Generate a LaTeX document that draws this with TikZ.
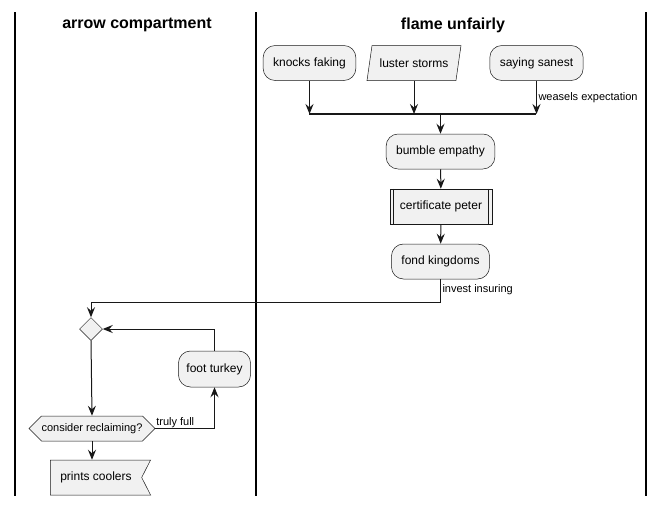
\documentclass[tikz,border=0pt]{standalone}
\usepackage{fontspec}
\setmainfont{Liberation Sans}
\usetikzlibrary{arrows.meta,shapes.geometric,shapes.symbols}
\definecolor{boxc}{HTML}{F1F1F1}
\definecolor{linec}{HTML}{181818}

\begin{document}
\begin{tikzpicture}[x=1pt,y=-1pt,
        act/.style={draw=linec, line width=0.5pt, fill=boxc, rounded corners=12pt,
            minimum height=35pt, inner xsep=10pt, font=\fontsize{12}{14}\selectfont},
        arr/.style={draw=linec, line width=1pt, -{Stealth[length=10pt,width=8pt,inset=3.5pt]}},
        lab/.style={font=\fontsize{11}{13}\selectfont, inner sep=1.5pt},
        lane/.style={line width=1.4pt},
        title/.style={font=\fontsize{16}{18}\selectfont\bfseries}]
        \useasboundingbox (0,0) rectangle (665,506);
        % swimlanes
        \draw[lane](15,12)--(15,496);
        \draw[lane](256,12)--(256,496);
        \draw[lane](646,12)--(646,496);
        \node[title] (t1) at (137,25) {arrow compartment};
        \node[title] (t2) at (453,25) {flame unfairly};
        % right lane
        \node[act] (kf) at (309.5,63) {knocks faking};
        \node[act, rounded corners=0pt, trapezium, trapezium left angle=72, trapezium right angle=108,
            trapezium stretches body, inner xsep=2pt, minimum width=94pt] (ls) at (414,63) {luster storms};
        \node[act] (ss) at (536.5,63) {saying sanest};
        \coordinate (barl) at (309,114);
        \coordinate (barr) at (536,114);
        \draw[arr](kf.south)--(kf.south |- barl);
        \draw[arr](ls.south)--(ls.south |- barl);
        \draw[arr](ss.south)--(ss.south |- barl) node[lab, right, midway]{weasels expectation};
        \draw[draw=linec, line width=2pt](barl)--(barr);
        \node[act] (be) at (440.5,151.5) {bumble empathy};
        \draw[arr](be.north |- barl)--(be.north);
        \node[act, rounded corners=0pt, inner xsep=10pt] (cp) at (441,206.5) {certificate peter};
        \draw[draw=linec, line width=0.5pt]([xshift=4pt]cp.north west)--([xshift=4pt]cp.south west);
        \draw[draw=linec, line width=0.5pt]([xshift=-4pt]cp.north east)--([xshift=-4pt]cp.south east);
        \node[act] (fk) at (440.5,261.5) {fond kingdoms};
        \draw[arr](be)--(cp);
        \draw[arr](cp)--(fk);
        % left lane
        \node[act, rounded corners=0pt, diamond, inner sep=0pt, minimum size=23pt] (dm) at (91,329) {};
        \draw[arr](fk.south)--++(0,23) node[lab, right, pos=0.45]{invest insuring} -| (dm.north);
        \node[act, inner xsep=8pt, minimum height=36pt] (ft) at (214.5,369) {foot turkey};
        \node[act, rounded corners=0pt, signal, signal to=west and east, signal pointer angle=90,
            minimum height=25pt, inner xsep=0pt, font=\fontsize{11}{13}\selectfont] (cr) at (92,428.5) {consider reclaiming?};
        \draw[arr](ft.north)|-(dm.east);
        \draw[arr](dm.south)--(cr.north);
        \draw[arr](cr.east)-|(ft.south) node[lab, pos=0, above right, inner sep=0.5pt]{truly full};
        \node[act, rounded corners=0pt, signal, signal to=nowhere, signal from=east, signal pointer angle=126,
            minimum height=35pt, inner xsep=10pt] (pc) at (96,477.5) {prints coolers};
        \draw[arr](cr.south)--(pc.north -| cr.south);
    \end{tikzpicture}
\end{document}
